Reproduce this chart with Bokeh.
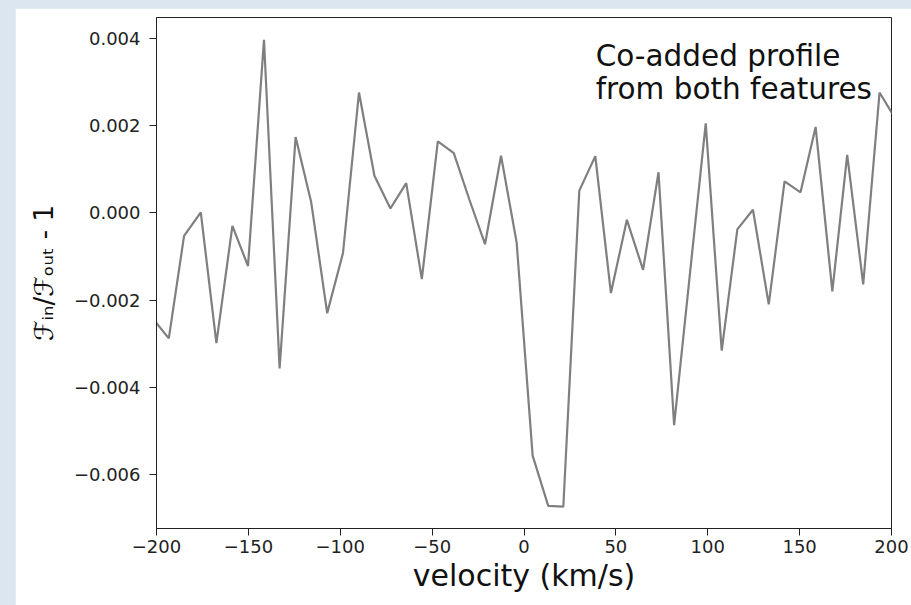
from bokeh.plotting import figure
from bokeh.models import Range1d, FixedTicker, CustomJSTickFormatter, Label
from bokeh.layouts import column
from bokeh.embed import file_html
from bokeh.resources import INLINE

# velocity (km/s) and relative flux values
velocity = [-201.9, -193.3, -185.0, -175.9, -167.4, -158.7, -150.2, -141.5, -133.0, -124.3,
            -115.8, -107.1, -98.5, -89.8, -81.4, -72.7, -64.1, -55.6, -46.9, -38.2,
            -29.7, -21.2, -12.5, -4.0, 4.7, 13.2, 21.4, 30.1, 38.8, 47.3,
            56.0, 64.8, 73.2, 81.7, 90.3, 98.9, 107.6, 116.1, 124.6, 133.2,
            141.8, 150.5, 158.7, 167.8, 175.9, 184.6, 193.5, 202.1]
flux = [-0.00243, -0.00288, -0.00053, 0.00001, -0.00299, -0.00030, -0.00122, 0.00397, -0.00357, 0.00174,
        0.00024, -0.00230, -0.00092, 0.00276, 0.00085, 0.00010, 0.00068, -0.00152, 0.00164, 0.00137,
        0.00030, -0.00072, 0.00131, -0.00068, -0.00557, -0.00672, -0.00674, 0.00051, 0.00130, -0.00184,
        -0.00016, -0.00131, 0.00093, -0.00487, -0.00140, 0.00205, -0.00316, -0.00038, 0.00007, -0.00210,
        0.00072, 0.00047, 0.00197, -0.00180, 0.00133, -0.00164, 0.00276, 0.00216]

x_ticks = [-200, -150, -100, -50, 0, 50, 100, 150, 200]
y_ticks = [-0.006, -0.004, -0.002, 0.000, 0.002, 0.004]
annotation_lines = ["Co-added profile", "from both features"]

FONT = "DejaVu Sans"

p = figure(width=896, height=597,
           x_range=Range1d(-200, 200), y_range=Range1d(-0.00724, 0.00448),
           output_backend="svg", toolbar_location=None,
           min_border_left=141, min_border_right=20,
           min_border_top=9, min_border_bottom=77)
p.margin = (8, 0, 0, 15)
p.background_fill_color = "white"
p.border_fill_color = "white"
p.outline_line_color = "#222222"
p.outline_line_width = 1
p.xgrid.visible = False
p.ygrid.visible = False

p.line(velocity, flux, line_color="#7f7f7f", line_width=2.2)

for ax in (p.xaxis[0], p.yaxis[0]):
    ax.axis_line_color = "#222222"
    ax.major_tick_line_color = "#222222"
    ax.major_tick_out = 7
    ax.major_tick_in = 0
    ax.minor_tick_line_color = None
    ax.major_label_text_font = FONT
    ax.major_label_text_font_size = "18px"
    ax.major_label_text_color = "#222222"
    ax.axis_label_text_font = FONT
    ax.axis_label_text_font_style = "normal"
    ax.axis_label_text_color = "#111111"

p.xaxis.ticker = FixedTicker(ticks=x_ticks)
p.yaxis.ticker = FixedTicker(ticks=y_ticks)
p.xaxis.formatter = CustomJSTickFormatter(code="""
    const v = Math.round(tick);
    return (v < 0 ? '\\u2212' : '') + Math.abs(v).toString();
""")
p.yaxis.formatter = CustomJSTickFormatter(code="""
    const s = Math.abs(tick).toFixed(3);
    return (tick < -1e-9 ? '\\u2212' : '') + s;
""")
p.xaxis.major_label_standoff = 4
p.yaxis.major_label_standoff = 9

p.xaxis.axis_label = "velocity (km/s)"
p.xaxis.axis_label_text_font_size = "30px"
p.xaxis.axis_label_standoff = 2
p.yaxis.axis_label = "\u2131\u1d62\u2099/\u2131\u2092\u1d64\u209c - 1"
p.yaxis.axis_label_text_font_size = "26px"
p.yaxis.axis_label_standoff = 12

p.add_layout(Label(x=39, y=0.003604, text=annotation_lines[0], text_font=FONT,
                   text_font_size="29.5px", text_color="#111111", text_baseline="alphabetic"))
p.add_layout(Label(x=39, y=0.002848, text=annotation_lines[1], text_font=FONT,
                   text_font_size="29.5px", text_color="#111111", text_baseline="alphabetic"))

layout = column(p, styles={"background-color": "#dce6f1"})

open("out.html", "w").write(file_html(layout, INLINE))
